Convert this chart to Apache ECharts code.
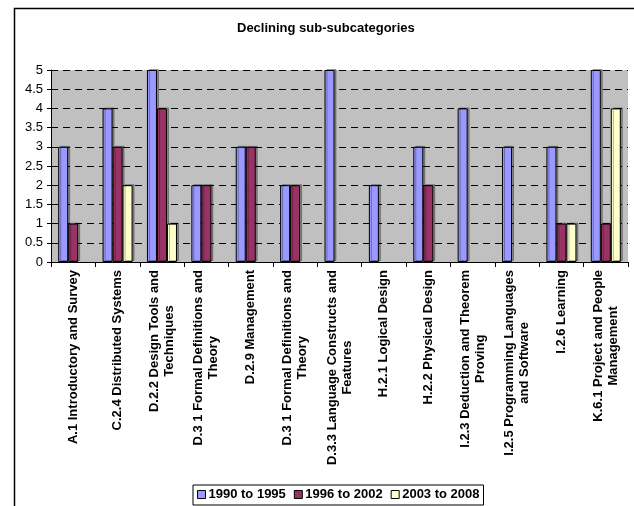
<!DOCTYPE html>
<html>
<head>
<meta charset="utf-8">
<script src="https://cdn.jsdelivr.net/npm/echarts@6/dist/echarts.min.js"></script>
<style>
html,body{margin:0;padding:0;background:#fff;}
#chart{width:634px;height:506px;}
</style>
</head>
<body>
<div id="chart"></div>
<script>
const titleText = 'Declining sub-subcategories';
const categories = [
  'A.1 Introductory and Survey',
  'C.2.4 Distributed Systems',
  'D.2.2 Design Tools and\nTechniques',
  'D.3 1 Formal Definitions and\nTheory',
  'D.2.9 Management',
  'D.3 1 Formal Definitions and\nTheory',
  'D.3.3 Language Constructs and\nFeatures',
  'H.2.1 Logical Design',
  'H.2.2 Physical Design',
  'I.2.3 Deduction and Theorem\nProving',
  'I.2.5 Programming Languages\nand Software',
  'I.2.6 Learning',
  'K.6.1 Project and People\nManagement'
];
const seriesNames = ['1990 to 1995', '1996 to 2002', '2003 to 2008'];
const s1990 = [3, 4, 5, 2, 3, 2, 5, 2, 3, 4, 3, 3, 5];
const s1996 = [1, 3, 4, 2, 3, 2, 0, 0, 2, 0, 0, 1, 1];
const s2003 = [0, 2, 1, 0, 0, 0, 0, 0, 0, 0, 0, 1, 4];
const yTicks = [0, 0.5, 1, 1.5, 2, 2.5, 3, 3.5, 4, 4.5, 5];

const FONT = '"Liberation Sans", Arial, sans-serif';
const colors = ['#9999FF', '#993366', '#FFFFCC'];

// centre the lines of each rotated two-line label with spacer tokens
const cv = document.createElement('canvas').getContext('2d');
cv.font = 'bold 13px "Liberation Sans"';
const rich = {
  t: {fontSize: 13, fontWeight: 'bold', fontFamily: FONT, color: '#000', lineHeight: 15}
};
const labelText = categories.map((c, i) => {
  const lines = c.split('\n');
  const ws = lines.map(l => cv.measureText(l).width);
  const W = Math.max(...ws);
  return lines.map((l, k) => {
    const pad = (W - ws[k]) / 2;
    if (pad < 0.5) return '{t|' + l + '}';
    const key = 'p' + i + '_' + k;
    rich[key] = {width: pad, fontSize: 13, lineHeight: 15, fontFamily: FONT};
    return '{t|' + l + '}{' + key + '| }';
  }).join('\n');
});

const toData = arr => arr.map(v => v === 0 ? '-' : v);

const chart = echarts.init(document.getElementById('chart'), null, {renderer: 'canvas'});
chart.setOption({
  animation: false,
  backgroundColor: '#fff',
  textStyle: {fontFamily: FONT},
  graphic: [{
    type: 'rect', left: 12, top: 6, z: -10,
    shape: {width: 640, height: 520},
    style: {fill: 'none', stroke: '#000', lineWidth: 1.5}
  }],
  title: {
    text: titleText, left: 237, top: 22, padding: 0,
    textStyle: {fontSize: 13, fontWeight: 'bold', color: '#000', fontFamily: FONT}
  },
  legend: {
    data: seriesNames, left: 193, top: 485,
    padding: [3, 4, 4, 4], itemGap: 8, itemWidth: 8, itemHeight: 8,
    borderColor: '#000', borderWidth: 1, icon: 'rect',
    textStyle: {fontSize: 13, fontWeight: 'bold', color: '#000', fontFamily: FONT, padding: [0, 0, 0, -2]},
    itemStyle: {borderColor: '#000', borderWidth: 1}
  },
  grid: {left: 51, right: 6, top: 70, bottom: 244, backgroundColor: '#C0C0C0', show: true, borderWidth: 0},
  xAxis: {
    type: 'category', data: categories,
    axisLine: {lineStyle: {color: '#000', width: 1}},
    axisTick: {show: true, length: 5, lineStyle: {color: '#000'}},
    axisLabel: {
      interval: 0, rotate: 90, margin: 8,
      formatter: (v, i) => labelText[i],
      rich: rich
    }
  },
  yAxis: {
    type: 'value', min: 0, max: 5, interval: 0.5,
    axisLine: {show: true, lineStyle: {color: '#000', width: 1}},
    axisTick: {show: true, length: 4, lineStyle: {color: '#000'}},
    axisLabel: {fontSize: 13, color: '#000', fontFamily: FONT, margin: 8,
      formatter: v => (yTicks.indexOf(v) >= 0 ? String(v) : '')},
    splitLine: {show: true, lineStyle: {color: '#000', type: [7, 5], width: 1}}
  },
  series: [s1990, s1996, s2003].map((arr, k) => ({
    name: seriesNames[k], type: 'bar', data: toData(arr),
    barWidth: 10, barGap: '0%',
    itemStyle: {color: colors[k], borderColor: '#000', borderWidth: 1,
      shadowColor: 'rgba(0,0,0,0.3)', shadowOffsetX: 2, shadowOffsetY: -1, shadowBlur: 0}
  }))
});
</script>
</body>
</html>
